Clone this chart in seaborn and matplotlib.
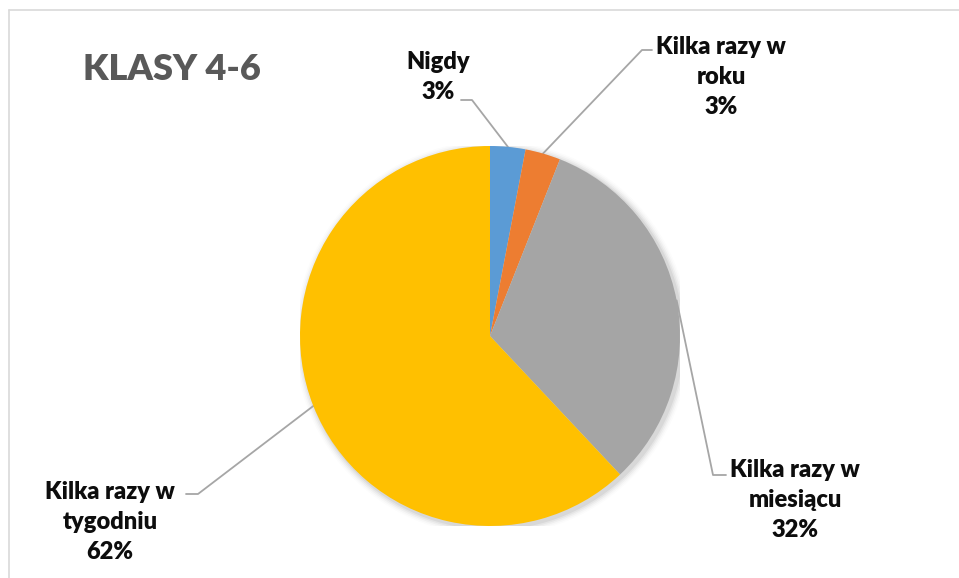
import numpy as np
import matplotlib
matplotlib.use("Agg")
from matplotlib import pyplot as plt
from matplotlib.patches import Circle
import seaborn as sns

# dane
categories = ["Nigdy", "Kilka razy w\nroku", "Kilka razy w\nmiesiącu", "Kilka razy w\ntygodniu"]
values = [3, 3, 32, 62]
colors = ["#5B9BD5", "#ED7D31", "#A5A5A5", "#FFC000"]
title = "KLASY 4-6"

sns.set_theme(style="white")
plt.rcParams["font.family"] = ["Lato", "DejaVu Sans"]

W, H = 959, 578
CX, CY, R = 490, 336, 190

fig = plt.figure(figsize=(W / 100, H / 100), dpi=100)
ax = fig.add_axes([(CX - R) / W, (H - CY - R) / H, 2 * R / W, 2 * R / H])

# delikatny cień pod kołem
for i, a in enumerate([0.05, 0.04, 0.03, 0.02, 0.01]):
    ax.add_patch(Circle((0.012, -0.012), 1 + 0.008 * (i + 1), color="black",
                        alpha=a, lw=0, zorder=0))

wedges, _ = ax.pie(values, colors=colors, startangle=90, counterclock=False,
                   radius=1, wedgeprops=dict(linewidth=0, zorder=2))
ax.set_xlim(-1, 1)
ax.set_ylim(-1, 1)
ax.set_aspect("auto")
ax.axis("off")


def px2d(px, py):
    return (px - CX) / R, (CY - py) / R


# pozycje etykiet (piksele) i łokcie linii odniesienia
label_pos = [(438, 77), (721, 77), (795, 500), (110, 522)]
elbows = [[(461, 100), (472, 100)], [(652, 50), (642, 50)],
          [(726, 475), (713, 475)], [(186, 494), (198, 494)]]

for w, cat, v, lp, el in zip(wedges, categories, values, label_pos, elbows):
    ang = np.deg2rad((w.theta1 + w.theta2) / 2)
    ax_, ay_ = np.cos(ang), np.sin(ang)
    pts = [px2d(*p) for p in el] + [(ax_, ay_)]
    ax.plot([p[0] for p in pts], [p[1] for p in pts], color="#A6A6A6",
            lw=1.3, clip_on=False, zorder=1)
    tx, ty = px2d(*lp)
    ax.text(tx, ty, f"{cat}\n{v}%", ha="center", va="center", fontsize=17,
            fontweight="heavy", color="#0D0D0D", linespacing=1.45)

fig.text(83 / W, 1 - 70 / H, title, ha="left", va="center", fontsize=26,
         fontweight="heavy", color="#595959")

# ramka wykresu
fig.add_artist(plt.Line2D([9 / W, 9 / W], [0, 1 - 10 / H], color="#D9D9D9", lw=1.2))
fig.add_artist(plt.Line2D([9 / W, 1], [1 - 10 / H, 1 - 10 / H], color="#D9D9D9", lw=1.2))

fig.savefig("out.png", dpi=100)
